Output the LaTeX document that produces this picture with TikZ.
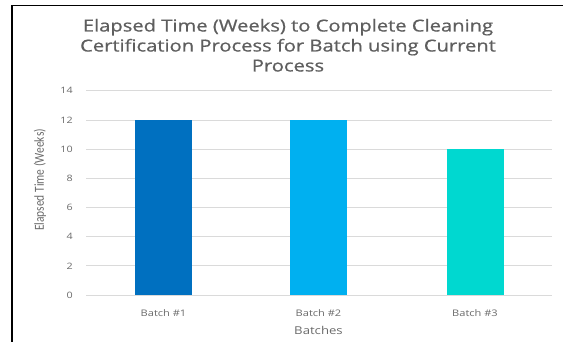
\documentclass[tikz,border=0pt]{standalone}
\usepackage{fontspec}
\setmainfont{Open Sans}
\newfontfamily\axisfont{Carlito}
\newfontfamily\titlefont[FakeBold=0.7]{Open Sans}
\usetikzlibrary{
    calc,
    positioning,
}
\definecolor{batchone}{HTML}{0070C0}
\definecolor{batchtwo}{HTML}{00B0F0}
\definecolor{batchthree}{HTML}{00D8D0}
\definecolor{titlegrey}{HTML}{5E5E5E}
\definecolor{labelgrey}{HTML}{6A6A6A}
\definecolor{gridgrey}{HTML}{DADADA}
% chart text is set a little wide
\newcommand{\widetext}[1]{\scalebox{1.22}[1]{#1}}
\tikzstyle{gridline}=[draw=gridgrey,line width=0.6pt]
\tikzstyle{bar}=[rectangle,inner sep=0pt,anchor=south,minimum width=42.75pt]
\tikzstyle{ticklabel}=[text=labelgrey,font=\fontsize{6.6}{7}\selectfont,inner sep=0pt,anchor=east]
\tikzstyle{catlabel}=[text=labelgrey,font=\fontsize{6.8}{8}\selectfont,inner sep=0pt,anchor=center]

\begin{document}
\begin{tikzpicture}[x=0.75pt,y=-0.75pt]
                \useasboundingbox (0,0) rectangle (563,342);
                % frame of the chart
                \draw[line width=1.1pt] (12,342) -- (12,5.5) -- (563,5.5);
                \node[text=titlegrey,inner sep=0pt,font=\titlefont\fontsize{12.4}{15}\selectfont] (title) at (288,47.5)
                    {\widetext{\begin{tabular}{@{}c@{}}Elapsed Time (Weeks) to Complete Cleaning\\Certification Process for Batch using Current\\Process\end{tabular}}};
                % value axis: grid and ticks
                \foreach \v in {0,2,...,14} {
                    \draw[gridline] (86,295-\v*14.583) -- (552,295-\v*14.583);
                    \node[ticklabel] at (73,295-\v*14.583) {\widetext{\v}};
                }
                \node[rotate=90,text=labelgrey,inner sep=0pt,font=\axisfont\fontsize{8.6}{10}\selectfont] (ytitle) at (40,180)
                    {\scalebox{1}[1.2]{Elapsed Time (Weeks)}};
                % bars
                \node[bar,fill=batchone,minimum height=12*14.583*0.75pt] (bar1) at (163.5,295) {};
                \node[bar,fill=batchtwo,minimum height=12*14.583*0.75pt] (bar2) at (318.5,295) {};
                \node[bar,fill=batchthree,minimum height=10*14.583*0.75pt] (bar3) at (475,295) {};
                \node[catlabel,below=3.7mm of bar1.south] (cat1) {\widetext{Batch \#1}};
                \node[catlabel,below=3.7mm of bar2.south] (cat2) {\widetext{Batch \#2}};
                \node[catlabel,below=3.7mm of bar3.south] (cat3) {\widetext{Batch \#3}};
                \node[text=labelgrey,inner sep=0pt,font=\fontsize{8.1}{9}\selectfont,below=4.7mm of cat2.center,anchor=center] (xtitle)
                    {\widetext{Batches}};
\end{tikzpicture}
\end{document}
